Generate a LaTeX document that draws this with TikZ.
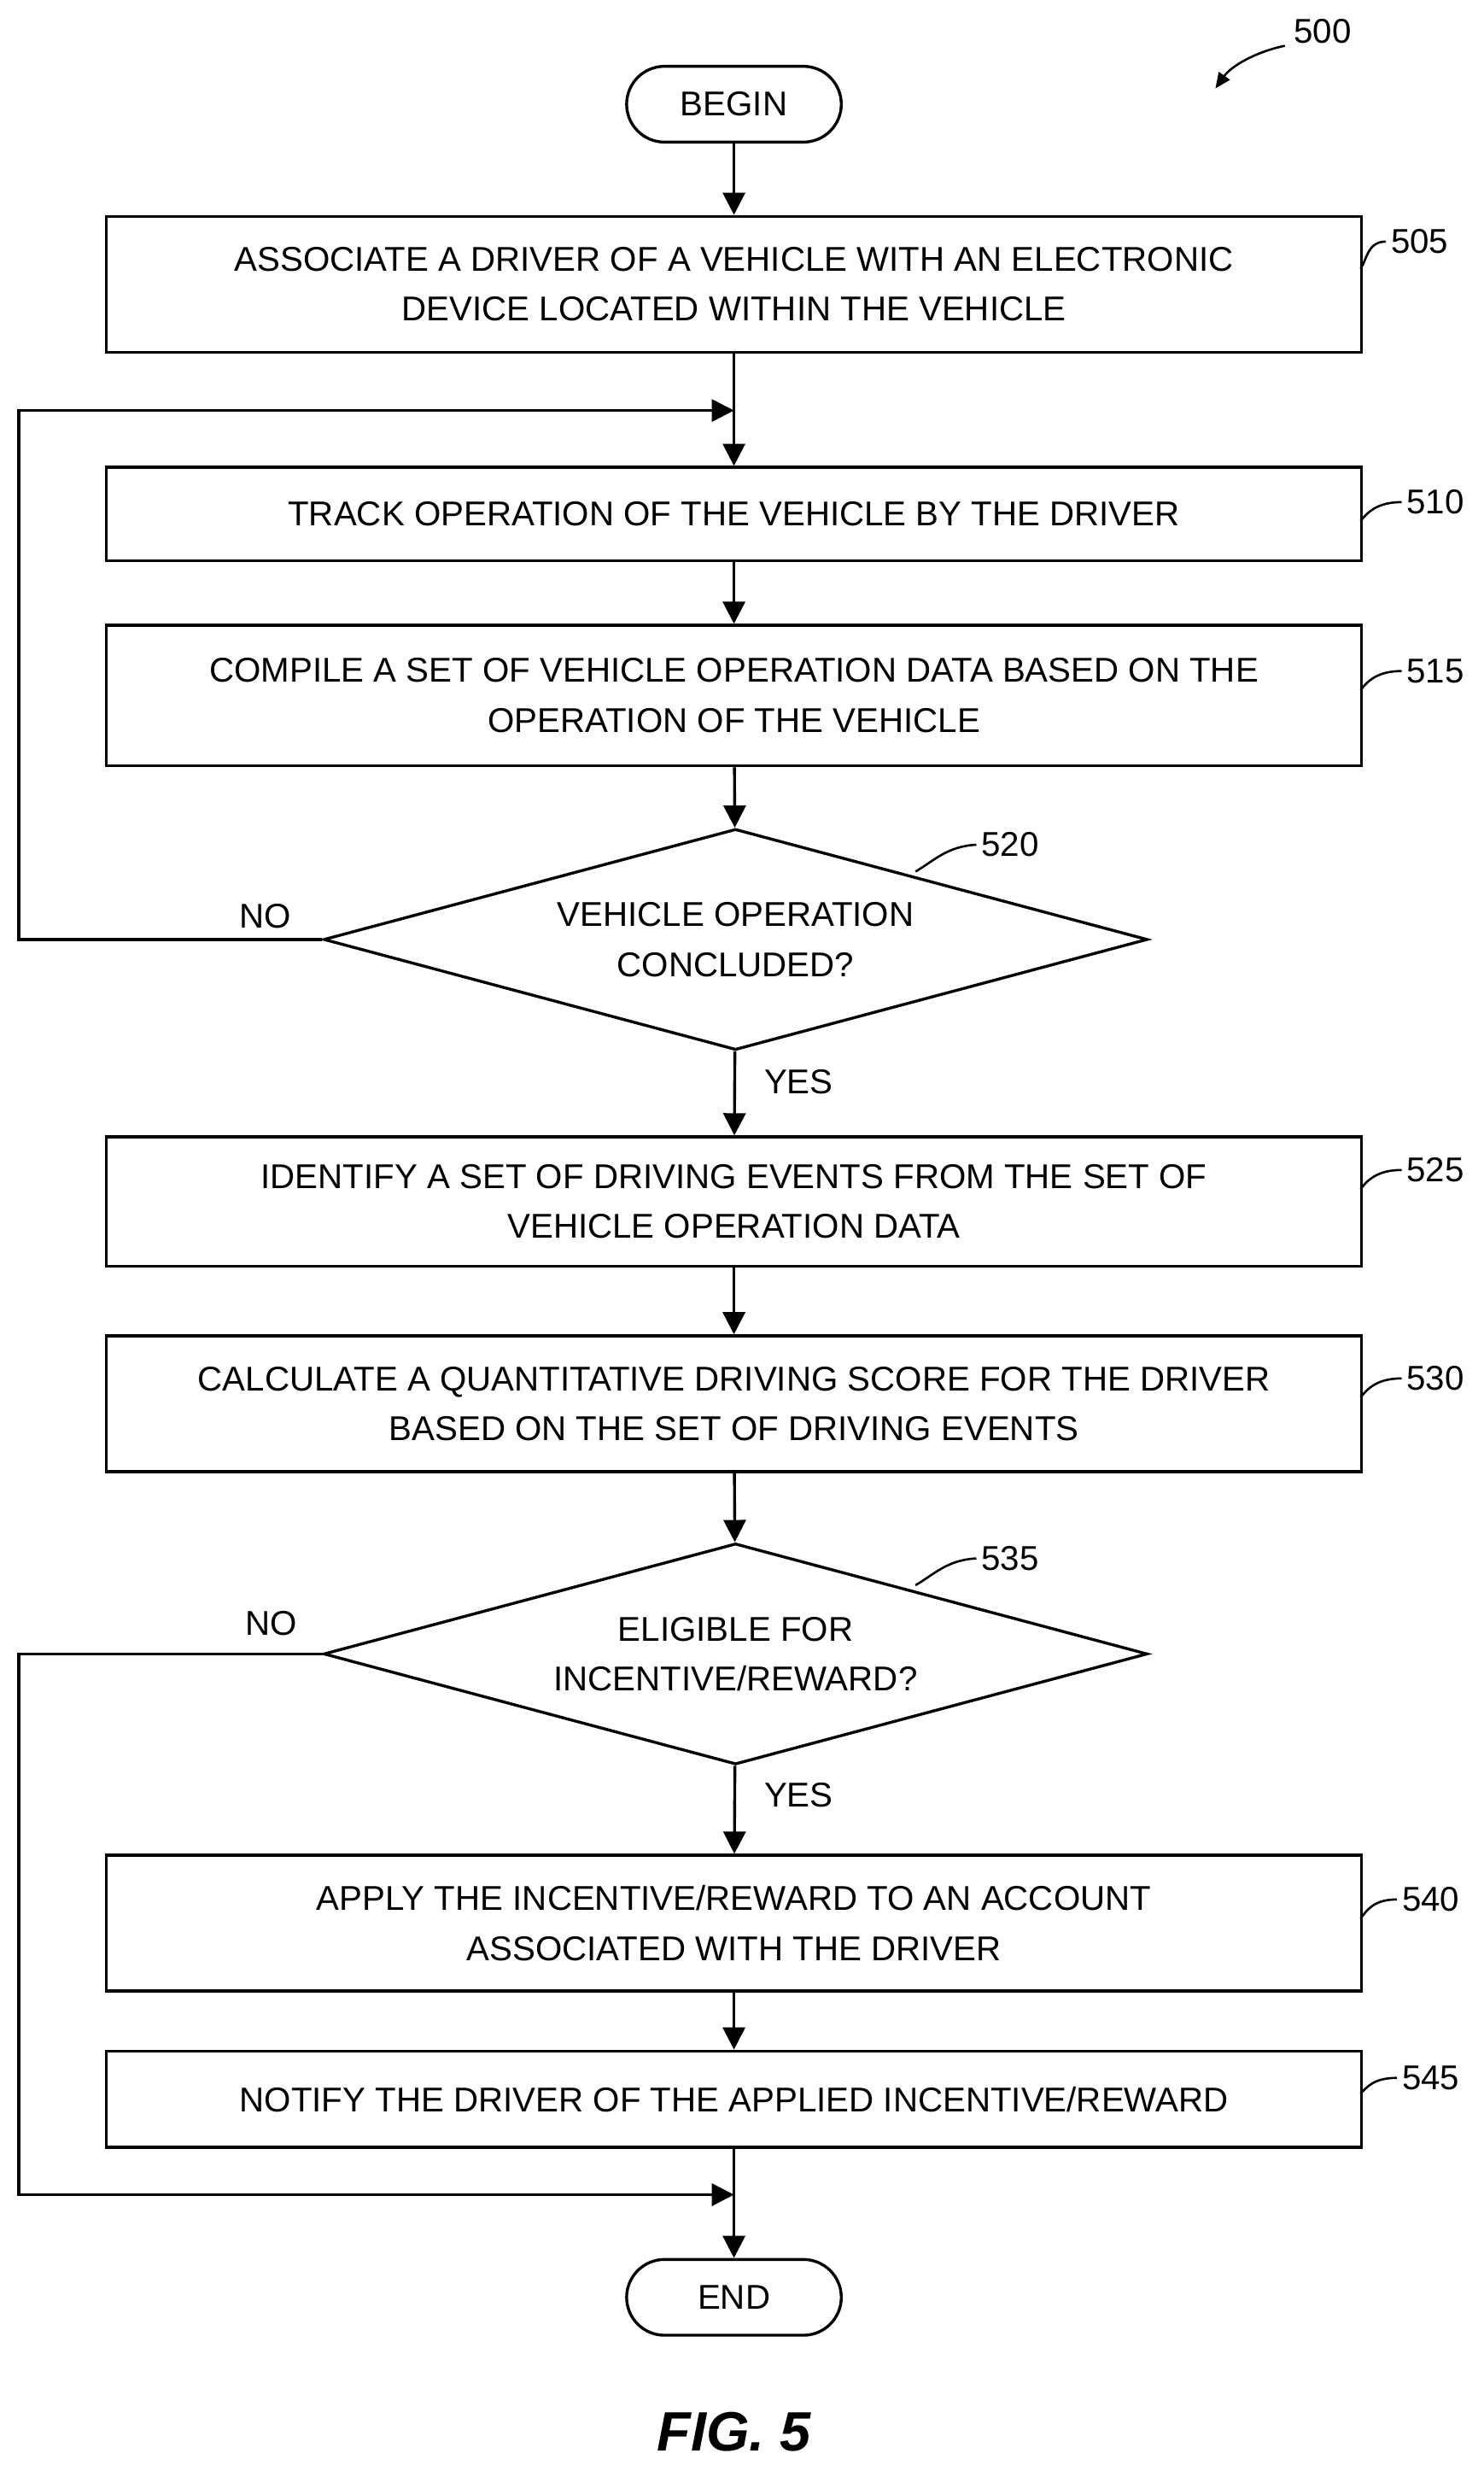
\documentclass[tikz,border=0pt]{standalone}
\usepackage{fontspec}
\setmainfont{Liberation Sans}
\usetikzlibrary{shapes.geometric,arrows.meta}
\begin{document}
\begin{tikzpicture}[x=0.05cm,y=-0.05cm,line width=2.6pt,
 box/.style={draw,minimum width=795*0.05cm,align=center,font=\fontsize{31}{45}\selectfont,inner sep=0pt},
 term/.style={draw,rounded corners=24*0.05cm,minimum width=136*0.05cm,minimum height=48*0.05cm,font=\fontsize{31}{36}\selectfont},
 dec/.style={draw,diamond,aspect=3.73,minimum width=522*0.05cm,minimum height=140*0.05cm,inner sep=0pt,align=center,font=\fontsize{31}{45}\selectfont},
 lbl/.style={font=\fontsize{31}{36}\selectfont},
 arr/.style={-{Triangle[width=20pt,length=20pt]}},
 lead/.style={line width=2pt}]
\useasboundingbox (0,0) rectangle (940,1565);
\node[term] (begin) at (465,66) {BEGIN};
\node[box,minimum height=86*0.05cm] (b505) at (465,180) {ASSOCIATE A DRIVER OF A VEHICLE WITH AN ELECTRONIC\\DEVICE LOCATED WITHIN THE VEHICLE};
\node[box,minimum height=59*0.05cm] (b510) at (465,325.5) {TRACK OPERATION OF THE VEHICLE BY THE DRIVER};
\node[box,minimum height=89*0.05cm] (b515) at (465,440.5) {COMPILE A SET OF VEHICLE OPERATION DATA BASED ON THE\\OPERATION OF THE VEHICLE};
\node[dec] (d520) at (466,595) {VEHICLE OPERATION\\CONCLUDED?};
\node[box,minimum height=82*0.05cm] (b525) at (465,761) {IDENTIFY A SET OF DRIVING EVENTS FROM THE SET OF\\VEHICLE OPERATION DATA};
\node[box,minimum height=86*0.05cm] (b530) at (465,889) {CALCULATE A QUANTITATIVE DRIVING SCORE FOR THE DRIVER\\BASED ON THE SET OF DRIVING EVENTS};
\node[dec] (d535) at (466,1047.5) {ELIGIBLE FOR\\INCENTIVE/REWARD?};
\node[box,minimum height=86*0.05cm] (b540) at (465,1218) {APPLY THE INCENTIVE/REWARD TO AN ACCOUNT\\ASSOCIATED WITH THE DRIVER};
\node[box,minimum height=61*0.05cm] (b545) at (465,1329.5) {NOTIFY THE DRIVER OF THE APPLIED INCENTIVE/REWARD};
\node[term] (end) at (465,1455) {END};
\coordinate (j1) at (465,260);
\coordinate (j2) at (465,1390);
\draw[arr] (begin) -- (b505);
\draw (b505) -- (j1);
\draw[arr] (j1) -- (b510);
\draw[arr] (b510) -- (b515);
\draw[arr] (b515) -- (d520);
\draw[arr] (d520.west) -- (12,595) -- (12,260) -- (j1);
\draw[arr] (d520) -- (b525);
\draw[arr] (b525) -- (b530);
\draw[arr] (b530) -- (d535);
\draw[arr] (d535) -- (b540);
\draw[arr] (b540) -- (b545);
\draw (b545) -- (j2);
\draw[arr] (d535.west) -- (12,1047.5) -- (12,1390) -- (j2);
\draw[arr] (j2) -- (end);
\node[lbl] (no1) at (168,580) {NO};
\node[lbl] (yes1) at (506,685) {YES};
\node[lbl] (no2) at (172,1028) {NO};
\node[lbl] (yes2) at (506,1137) {YES};
\node[lbl,anchor=west] (l505) at (878,153) {505};
\node[lbl,anchor=west] (l510) at (888,318) {510};
\node[lbl,anchor=west] (l515) at (888,425) {515};
\node[lbl,anchor=west] (l525) at (888,741) {525};
\node[lbl,anchor=west] (l530) at (888,873) {530};
\node[lbl,anchor=west] (l540) at (885,1203) {540};
\node[lbl,anchor=west] (l545) at (885,1316) {545};
\node[lbl] (l520) at (640,535) {520};
\node[lbl] (l535) at (640,987) {535};
\node[lbl] (l500) at (838,20) {500};
\draw[lead] (l505.west) .. controls (866,153) and (866,165) .. (862,170);
\draw[lead] (l510.west) .. controls (872,318) and (866,325) .. (862,330);
\draw[lead] (l515.west) .. controls (872,425) and (866,432) .. (862,437);
\draw[lead] (l525.west) .. controls (872,741) and (866,748) .. (862,753);
\draw[lead] (l530.west) .. controls (872,873) and (866,880) .. (862,885);
\draw[lead] (l540.west) .. controls (870,1203) and (866,1210) .. (862,1215);
\draw[lead] (l545.west) .. controls (870,1316) and (866,1322) .. (862,1326);
\draw[lead] (l520.west) .. controls (600,536) and (592,545) .. (580,552);
\draw[lead] (l535.west) .. controls (600,988) and (592,997) .. (580,1004);
\draw[lead,-{Triangle[width=12pt,length=14pt]}] (814,29) .. controls (795,33) and (780,42) .. (770,56);
\node[font=\bfseries\itshape\fontsize{50}{56}\selectfont] (fig) at (465,1540) {FIG. 5};
\end{tikzpicture}
\end{document}
